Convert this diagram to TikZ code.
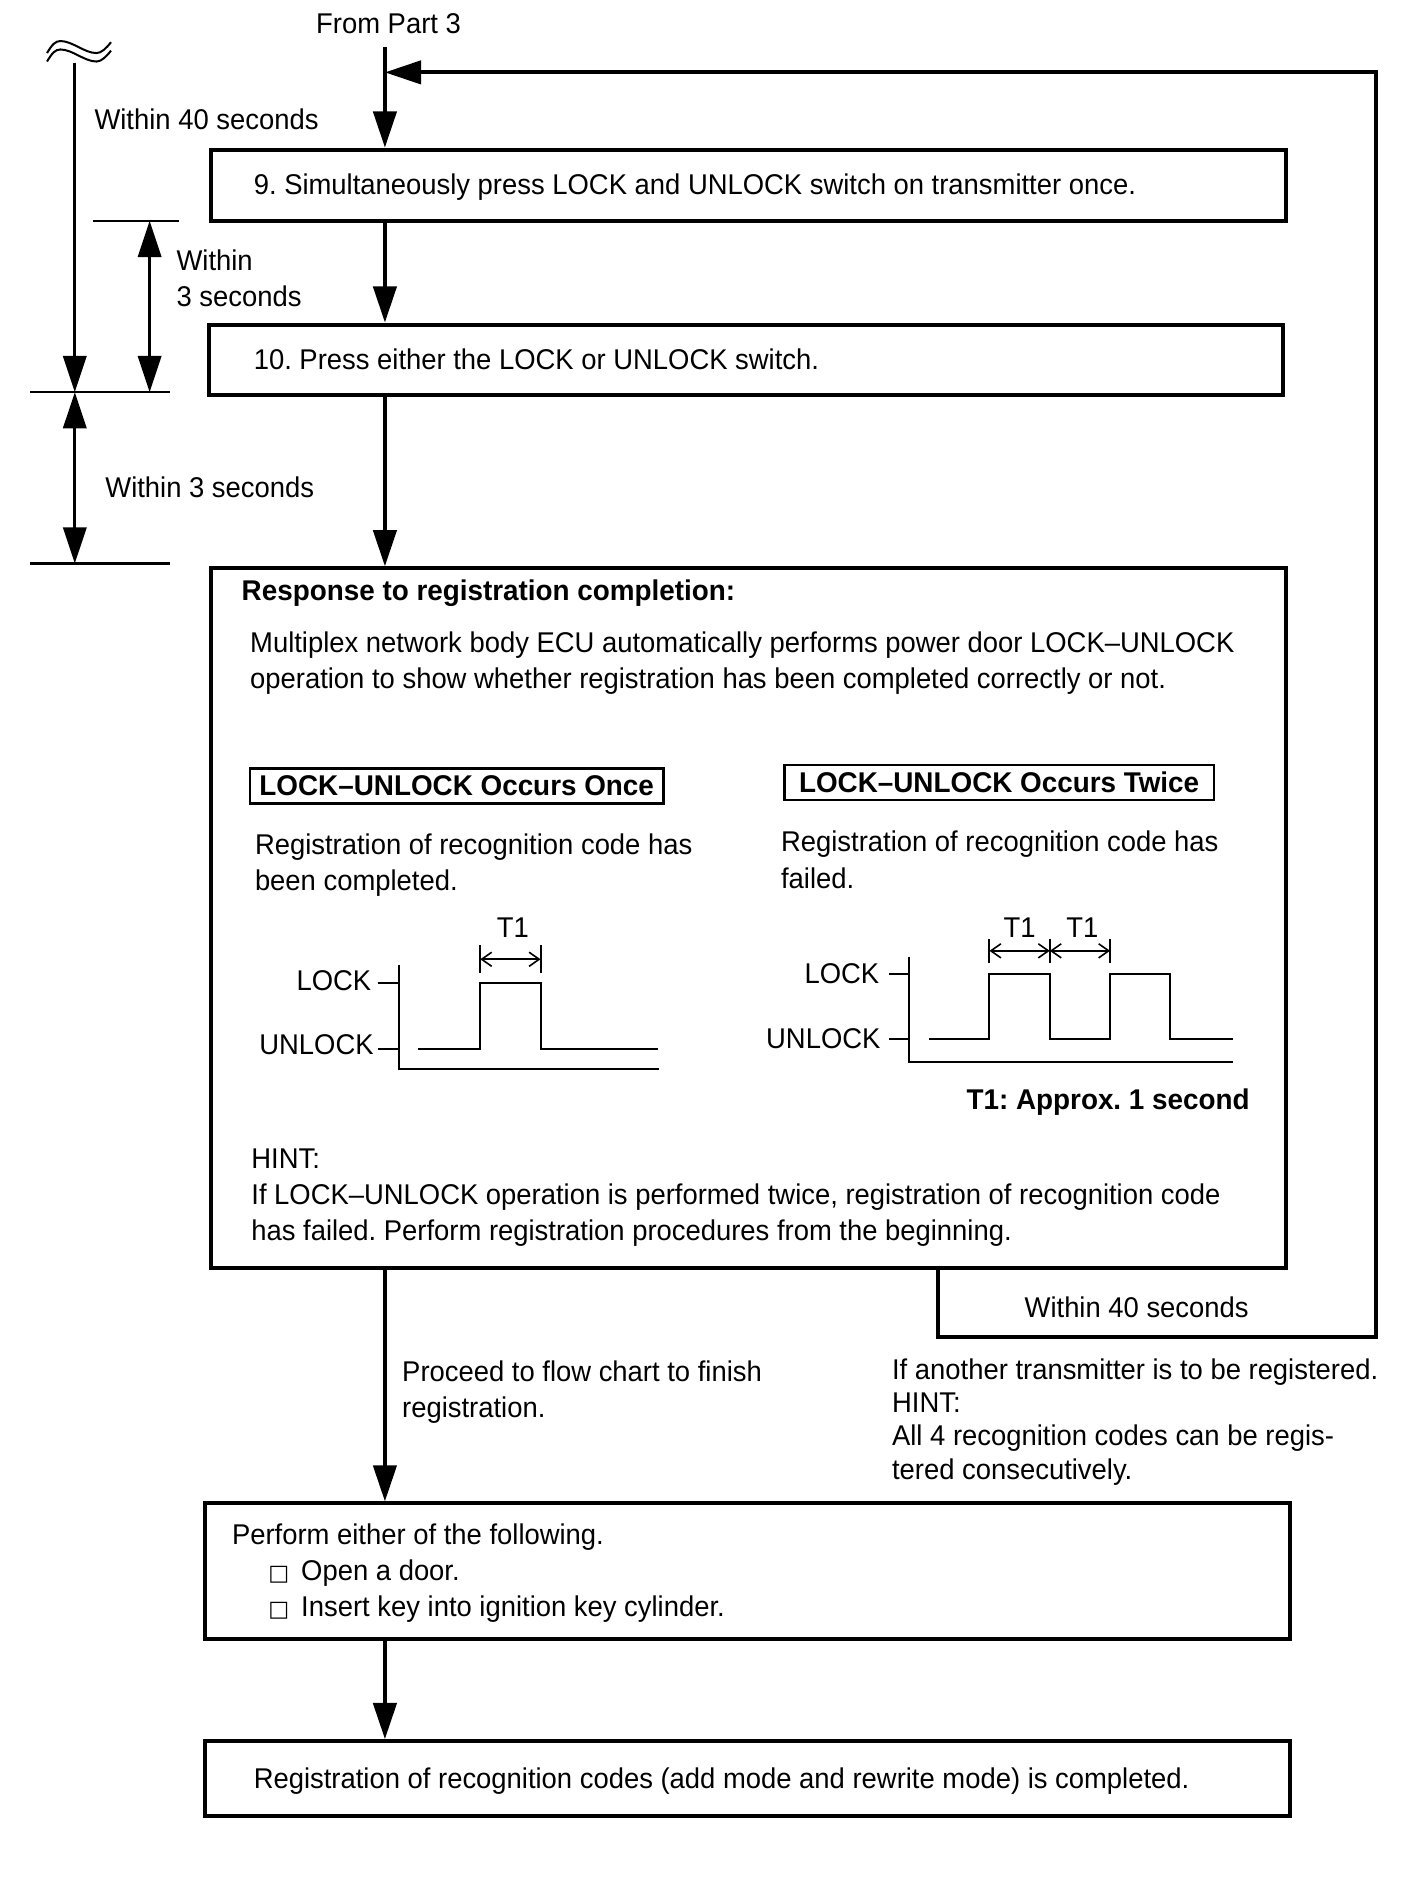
\documentclass[tikz,border=0pt]{standalone}
\usepackage{fontspec}
\setmainfont{Liberation Sans}[FakeStretch=0.96, BoldFeatures={FakeStretch=0.975}]
\newfontfamily\symfont{DejaVu Sans}
\usepackage{tikz}
\usetikzlibrary{arrows.meta,fit,calc}
\frenchspacing

\begin{document}
\begin{tikzpicture}[x=0.6pt, y=-0.6pt, font=\fontsize{14.2}{18}\selectfont,
    stepbox/.style={draw, line width=2pt, inner sep=0pt},
    lblbox/.style={draw, line width=1.2pt, inner sep=0pt},
    lbltxt/.style={inner sep=0pt, font=\fontsize{14.2}{18}\selectfont\bfseries},
    txt/.style={inner sep=0pt, anchor=north west, align=left},
    flow/.style={line width=2pt, -{Triangle[length=18pt,width=11.5pt]}},
    dimline/.style={line width=1.6pt, {Triangle[length=18pt,width=11.5pt]}-{Triangle[length=18pt,width=11.5pt]}},
    tickline/.style={line width=1.3pt},
    sig/.style={line width=1pt},
    tdim/.style={line width=0.8pt, {Straight Barb[length=5pt,width=7pt]}-{Straight Barb[length=5pt,width=7pt]}}]
      \useasboundingbox (0,0) rectangle (1167,1568);

      \node [inner sep=6pt] (from) at (322,20) {From Part 3};
      \coordinate (mx) at (319,0);
      \coordinate (lx) at (777,0);

      \node [stepbox, fit={(175,124) (1066,183)}] (s9) {};
      \node [txt] (s9txt) at (210,143.5) {9. Simultaneously press LOCK and UNLOCK switch on transmitter once.};
      \node [stepbox, fit={(173,269) (1063,327)}] (s10) {};
      \node [txt] (s10txt) at (210,288.5) {10. Press either the LOCK or UNLOCK switch.};

      \node [stepbox, fit={(175,471) (1066,1051)}] (resp) {};
      \node [txt, font=\fontsize{14.2}{18}\selectfont\bfseries] (resptitle) at (200,480.5) {Response to registration completion:};
      \node [txt] (respbody) at (207,523.5) {Multiplex network body ECU automatically performs power door LOCK–UNLOCK\\operation to show whether registration has been completed correctly or not.};
      \node [lblbox, fit={(207,637) (550,666)}] (once) {};
      \node [lbltxt] (oncetxt) at (once.center) {LOCK–UNLOCK Occurs Once};
      \node [lblbox, fit={(650,634) (1006,663)}] (twice) {};
      \node [lbltxt] (twicetxt) at (twice.center) {LOCK–UNLOCK Occurs Twice};
      \node [txt] (oncedesc) at (211,690.5) {Registration of recognition code has\\been completed.};
      \node [txt] (twicedesc) at (647,688.5) {Registration of recognition code has\\failed.};

      \node [inner sep=0pt] (t1a) at (425,769) {T1};
      \node [inner sep=0pt, anchor=east] (locka) at (308,813) {LOCK};
      \node [inner sep=0pt, anchor=east] (unlocka) at (310,866) {UNLOCK};
      \draw [sig] (331,800) -- (331,886) -- (546,886);
      \draw [sig] (313,815) -- (331,815);
      \draw [sig] (313,869) -- (331,869);
      \draw [sig] (346,869) -- (398,869) -- (398,815) -- (448,815) -- (448,869) -- (545,869);
      \draw [sig] (398,783) -- (398,806);
      \draw [sig] (448,783) -- (448,806);
      \draw [tdim] (398,795) -- (448,795);

      \node [inner sep=0pt] (t1b) at (845,769) {T1};
      \node [inner sep=0pt] (t1c) at (897,769) {T1};
      \node [inner sep=0pt, anchor=east] (lockb) at (729,807) {LOCK};
      \node [inner sep=0pt, anchor=east] (unlockb) at (730,861) {UNLOCK};
      \draw [sig] (753,793) -- (753,880) -- (1022,880);
      \draw [sig] (737,807) -- (753,807);
      \draw [sig] (737,861) -- (753,861);
      \draw [sig] (770,861) -- (820,861) -- (820,807) -- (870,807) -- (870,861) -- (920,861) -- (920,807) -- (970,807) -- (970,861) -- (1022,861);
      \draw [sig] (820,778) -- (820,798);
      \draw [sig] (870,778) -- (870,798);
      \draw [sig] (920,778) -- (920,798);
      \draw [tdim] (820,788) -- (870,788);
      \draw [tdim] (870,788) -- (920,788);
      \node [inner sep=0pt, anchor=east, font=\fontsize{14.2}{18}\selectfont\bfseries] (approx) at (1036,913) {T1: Approx. 1 second};

      \node [txt] (hint) at (208,951.5) {HINT:\\If LOCK–UNLOCK operation is performed twice, registration of recognition code\\has failed. Perform registration procedures from the beginning.};

      \node [stepbox, fit={(170,1246) (1069,1358)}] (perf) {};
      \node [txt] (perftxt) at (192,1262.5) {Perform either of the following.\\\hspace*{18pt}{\symfont\fontsize{11}{18}\selectfont □}\hspace{6pt}Open a door.\\\hspace*{18pt}{\symfont\fontsize{11}{18}\selectfont □}\hspace{6pt}Insert key into ignition key cylinder.};
      \node [stepbox, fit={(170,1443) (1069,1505)}] (done) {};
      \node [txt] (donetxt) at (210,1464.5) {Registration of recognition codes (add mode and rewrite mode) is completed.};

      \node [txt] (proceed) at (333,1127.5) {Proceed to flow chart to finish\\registration.};
      \node [txt, font=\fontsize{14.2}{16.6}\selectfont] (another) at (739,1125.5) {If another transmitter is to be registered.\\HINT:\\All 4 recognition codes can be regis-\\tered consecutively.};
      \node [inner sep=0pt] (w40b) at (942,1083) {Within 40 seconds};

      \draw [flow] (from.south -| mx) -- (s9.north -| mx);
      \draw [flow] (s9.south -| mx) -- (s10.north -| mx);
      \draw [flow] (s10.south -| mx) -- (resp.north -| mx);
      \draw [flow] (resp.south -| mx) -- (perf.north -| mx);
      \draw [flow] (perf.south -| mx) -- (done.north -| mx);

      \coordinate (lb) at (1140,1108);
      \coordinate (lt) at (1140,60);
      \draw [flow] (resp.south -| lx) |- (lb) -- (lt) -- (lt -| mx);

      \draw [line width=1pt] (39,44) .. controls (43,37) and (46,34) .. (50,34) .. controls (60,34) and (70,44) .. (80,44) .. controls (84,44) and (88,40) .. (92,35);
      \draw [line width=1pt] (39,51) .. controls (43,44) and (46,41) .. (50,41) .. controls (60,41) and (70,51) .. (80,51) .. controls (84,51) and (88,47) .. (92,42);

      \node [txt] (w40a) at (78,89.5) {Within 40 seconds};
      \node [txt] (w3a) at (146,206.5) {Within\\3 seconds};
      \node [txt] (w3b) at (87,394.5) {Within 3 seconds};

      \coordinate (d1a) at (62,52);
      \coordinate (d1b) at (62,325);
      \coordinate (d2b) at (62,467);
      \coordinate (d3a) at (124,183);
      \coordinate (d3b) at (124,325);
      \draw [tickline] (77,183) -- (148,183);
      \draw [tickline] (25,325) -- (141,325);
      \draw [tickline] (25,467) -- (141,467);
      \draw [line width=1.6pt, -{Triangle[length=18pt,width=11.5pt]}] (d1a) -- (d1b);
      \draw [dimline] (d1b) -- (d2b);
      \draw [dimline] (d3a) -- (d3b);
\end{tikzpicture}
\end{document}
